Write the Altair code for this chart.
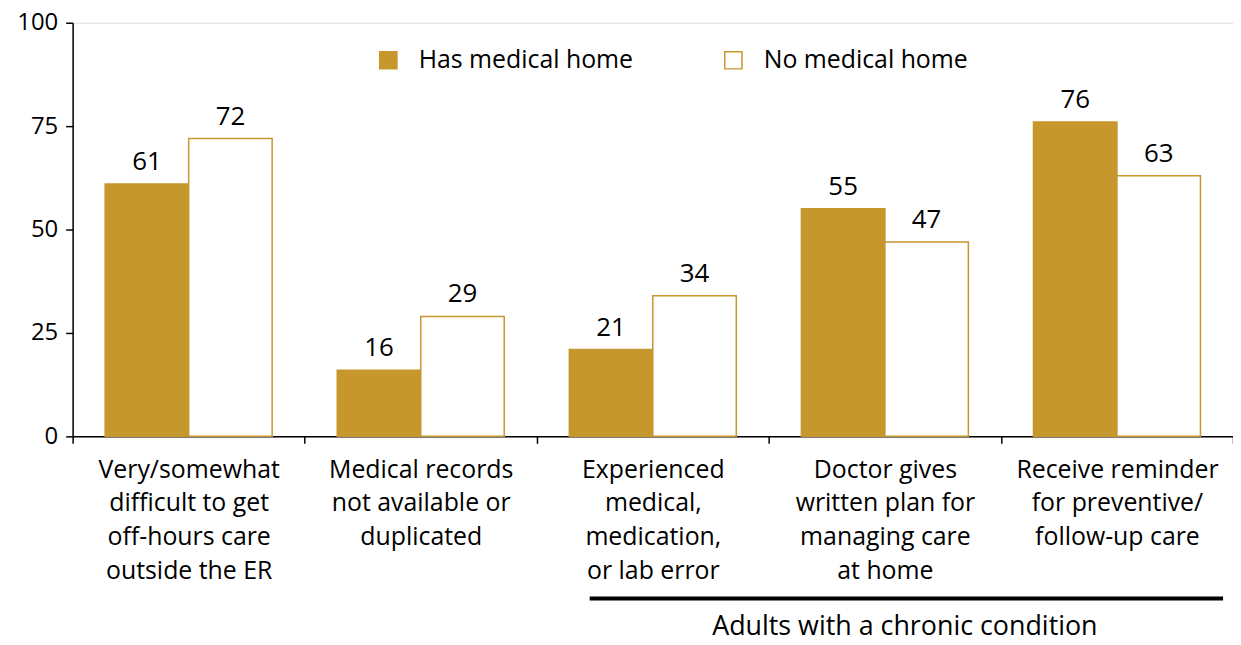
import altair as alt
import pandas as pd

categories = [
    "Very/somewhat|difficult to get|off-hours care|outside the ER",
    "Medical records|not available or|duplicated",
    "Experienced|medical,|medication,|or lab error",
    "Doctor gives|written plan for|managing care|at home",
    "Receive reminder|for preventive/|follow-up care",
]
groups = ["Has medical home", "No medical home"]
has_home = [61, 16, 21, 55, 76]
no_home = [72, 29, 34, 47, 63]
annotation = "Adults with a chronic condition"

GOLD = "#C6972D"
FONT = "Open Sans"

rows = []
for i, c in enumerate(categories):
    rows.append({"cat": c, "group": groups[0], "value": has_home[i]})
    rows.append({"cat": c, "group": groups[1], "value": no_home[i]})
df = pd.DataFrame(rows)

x = alt.X(
    "cat:N",
    sort=categories,
    scale=alt.Scale(paddingInner=0, paddingOuter=0),
    axis=alt.Axis(
        title=None,
        labelAngle=0,
        tickBand="extent",
        labelExpr="split(datum.label, '|')",
        labelFontSize=25,
        labelLineHeight=34,
        labelPadding=14,
        labelLimit=400,
        labelColor="black",
        domainColor="black",
        tickColor="black",
        tickSize=7,
        domainWidth=1.5,
        tickWidth=1.5,
    ),
)
xo = alt.XOffset("group:N", sort=groups, scale=alt.Scale(paddingInner=0, paddingOuter=0.39))
y = alt.Y(
    "value:Q",
    scale=alt.Scale(domain=[0, 100]),
    axis=alt.Axis(
        title=None,
        values=[0, 25, 50, 75, 100],
        grid=False,
        labelFontSize=24,
        labelColor="black",
        domainColor="black",
        tickColor="black",
        tickSize=7,
        labelPadding=8,
        domainWidth=1.5,
        tickWidth=1.5,
    ),
)

bars = alt.Chart(df).mark_bar(stroke=GOLD, strokeWidth=1.5).encode(
    x=x,
    xOffset=xo,
    y=y,
    fill=alt.Fill(
        "group:N",
        sort=groups,
        scale=alt.Scale(domain=groups, range=[GOLD, "#FFFFFF"]),
        legend=alt.Legend(
            title=None,
            orient="none",
            legendX=305,
            legendY=25,
            direction="horizontal",
            symbolType="square",
            symbolSize=300,
            symbolStrokeColor=GOLD,
            symbolStrokeWidth=1.5,
            labelFontSize=25,
            labelColor="black",
            labelOffset=18,
            labelLimit=400,
            columnPadding=88,
        ),
    ),
)

labels = alt.Chart(df).mark_text(baseline="bottom", dy=-9, fontSize=26, color="black").encode(
    x=alt.X("cat:N", sort=categories),
    xOffset=alt.XOffset("group:N", sort=groups),
    y="value:Q",
    text="value:Q",
)

ann_df = pd.DataFrame({"label": [annotation]})
rule = alt.Chart(ann_df).mark_rule(color="black", strokeWidth=4).encode(
    x=alt.value(520), x2=alt.value(1157), y=alt.value(579)
)
ann_text = alt.Chart(ann_df).mark_text(fontSize=27, color="black", baseline="middle").encode(
    x=alt.value(837), y=alt.value(608), text="label:N"
)

chart = (
    alt.layer(bars, labels, rule, ann_text)
    .properties(
        width=1167,
        height=416,
        autosize=alt.AutoSizeParams(type="none"),
        padding={"left": 65, "top": 13, "right": 0, "bottom": 206},
    )
    .configure_view(stroke=None)
    .configure(font=FONT)
)

chart.save("out.html", embed_options={"renderer": "svg", "actions": False})
